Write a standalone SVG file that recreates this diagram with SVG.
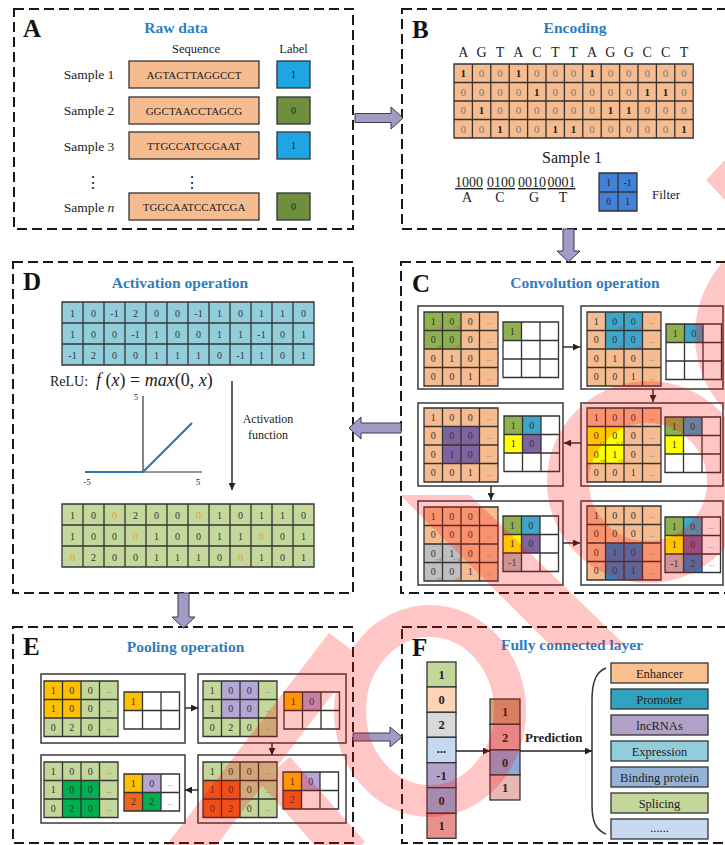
<svg xmlns="http://www.w3.org/2000/svg" width="725" height="845" viewBox="0 0 725 845">
<style>
text{font-family:"Liberation Serif","Times New Roman",serif;fill:#222}
.dash{fill:none;stroke:#1a1a1a;stroke-width:2;stroke-dasharray:10 5}
.pl{font-size:25px;font-weight:bold;fill:#111}
.ti{font-size:15.5px;font-weight:bold;fill:#2F7DBE;text-anchor:middle}
.c{text-anchor:middle}
.ln{fill:none;stroke:#333;stroke-width:1.3}
.sub{fill:#fff;stroke:#3a3a3a;stroke-width:1.5}
.v{font-size:10px;fill:#333;text-anchor:middle}
.d{font-size:7px;fill:#777;text-anchor:middle}
.m{font-size:5px;fill:#d03030;text-anchor:end}
.ba{fill:#A49AC6;stroke:#3a3a55;stroke-width:1}
.ar{stroke:#222;stroke-width:1.4;fill:none;marker-end:url(#ah)}
.bx{stroke:#333;stroke-width:1.3}
.z{font-size:11px;fill:#777;text-anchor:middle}
.o{font-weight:bold;fill:#222}
.cat{font-size:12.5px;fill:#222;text-anchor:middle}
.fv{font-size:12.5px;font-weight:bold;fill:#222;text-anchor:middle}
</style>
<defs>
<marker id="ah" viewBox="0 0 10 10" refX="10" refY="5" markerWidth="5" markerHeight="5" orient="auto"><path d="M0,0 L10,5 L0,10 z" fill="#222"/></marker>
<path id="L44" class="ln" d="M0 0H74V74H0ZM18.5 0V74M37 0V74M55.5 0V74M0 18.5H74M0 37H74M0 55.5H74"/>
<path id="L33" class="ln" d="M0 0H55.5V55.5H0ZM18.5 0V55.5M37 0V55.5M0 18.5H55.5M0 37H55.5"/>
<path id="L43" class="ln" d="M0 0H74V55.5H0ZM18.5 0V55.5M37 0V55.5M55.5 0V55.5M0 18.5H74M0 37H74"/>
<path id="L32" class="ln" d="M0 0H55.5V37H0ZM18.5 0V37M37 0V37M0 18.5H55.5"/>
</defs>
<rect width="725" height="845" fill="#fff"/>

<!-- A: raw data -->
<g id="panel-a">
<rect class="dash" x="14" y="9" width="339" height="220"/>
<text class="pl" x="23" y="37">A</text>
<text class="ti" x="176" y="33">Raw data</text>
<text class="c" x="196" y="53" font-size="12.5">Sequence</text>
<text class="c" x="293.5" y="53" font-size="12.5">Label</text>
<g font-size="13.5">
<text class="c" x="89" y="79">Sample 1</text>
<text class="c" x="89" y="115">Sample 2</text>
<text class="c" x="89" y="150.5">Sample 3</text>
<text class="c" x="89" y="211.5">Sample <tspan font-style="italic">n</tspan></text>
</g>
<g class="bx" fill="#F6BC8F">
<rect x="129" y="61" width="130" height="27"/>
<rect x="129" y="97" width="130" height="27"/>
<rect x="129" y="132" width="130" height="27"/>
<rect x="129" y="193" width="130" height="27"/>
</g>
<g font-size="11" fill="#444">
<text class="c" x="194" y="78.5" fill="#444">AGTACTTAGGCCT</text>
<text class="c" x="194" y="114.5" fill="#444">GGCTAACCTAGCG</text>
<text class="c" x="194" y="149.5" fill="#444">TTGCCATCGGAAT</text>
<text class="c" x="194" y="210.5" fill="#444">TGGCAATCCATCGA</text>
</g>
<g class="bx">
<rect x="277" y="61" width="33" height="27" fill="#1EA5E3"/>
<rect x="277" y="97" width="33" height="27" fill="#6F8F3E"/>
<rect x="277" y="132" width="33" height="27" fill="#1EA5E3"/>
<rect x="277" y="193" width="33" height="27" fill="#6F8F3E"/>
</g>
<g font-size="10">
<text class="c" x="293.5" y="78" fill="#555">1</text>
<text class="c" x="293.5" y="114" fill="#555">0</text>
<text class="c" x="293.5" y="149" fill="#555">1</text>
<text class="c" x="293.5" y="210" fill="#555">0</text>
</g>
<text class="c" x="93" y="188" font-size="16" font-family="DejaVu Serif,serif">⋮</text>
<text class="c" x="192" y="188" font-size="16" font-family="DejaVu Serif,serif">⋮</text>
</g>

<!-- B: one-hot encoding -->
<g id="panel-b">
<rect class="dash" x="402" y="9" width="330" height="220"/>
<text class="pl" x="412" y="38">B</text>
<text class="ti" x="575" y="33">Encoding</text>
<text font-size="14" fill="#333" y="57" class="c"><tspan x="463.2">A</tspan><tspan x="481.6">G</tspan><tspan x="500">T</tspan><tspan x="518.4">A</tspan><tspan x="536.8">C</tspan><tspan x="555.2">T</tspan><tspan x="573.6">T</tspan><tspan x="592">A</tspan><tspan x="610.4">G</tspan><tspan x="628.8">G</tspan><tspan x="647.2">C</tspan><tspan x="665.6">C</tspan><tspan x="684">T</tspan></text>
<rect x="454" y="64" width="239.2" height="74" fill="#F6BC8F"/>
<path class="ln" d="M454 64H693.2V138H454ZM472.4 64V138M490.8 64V138M509.2 64V138M527.6 64V138M546 64V138M564.4 64V138M582.8 64V138M601.2 64V138M619.6 64V138M638 64V138M656.4 64V138M674.8 64V138M454 82.5H693.2M454 101H693.2M454 119.5H693.2"/>
<text class="z" y="77"><tspan x="463.2" class="o">1</tspan><tspan x="481.6">0</tspan><tspan x="500">0</tspan><tspan x="518.4" class="o">1</tspan><tspan x="536.8">0</tspan><tspan x="555.2">0</tspan><tspan x="573.6">0</tspan><tspan x="592" class="o">1</tspan><tspan x="610.4">0</tspan><tspan x="628.8">0</tspan><tspan x="647.2">0</tspan><tspan x="665.6">0</tspan><tspan x="684">0</tspan></text>
<text class="z" y="95.5"><tspan x="463.2">0</tspan><tspan x="481.6">0</tspan><tspan x="500">0</tspan><tspan x="518.4">0</tspan><tspan x="536.8" class="o">1</tspan><tspan x="555.2">0</tspan><tspan x="573.6">0</tspan><tspan x="592">0</tspan><tspan x="610.4">0</tspan><tspan x="628.8">0</tspan><tspan x="647.2" class="o">1</tspan><tspan x="665.6" class="o">1</tspan><tspan x="684">0</tspan></text>
<text class="z" y="114"><tspan x="463.2">0</tspan><tspan x="481.6" class="o">1</tspan><tspan x="500">0</tspan><tspan x="518.4">0</tspan><tspan x="536.8">0</tspan><tspan x="555.2">0</tspan><tspan x="573.6">0</tspan><tspan x="592">0</tspan><tspan x="610.4" class="o">1</tspan><tspan x="628.8" class="o">1</tspan><tspan x="647.2">0</tspan><tspan x="665.6">0</tspan><tspan x="684">0</tspan></text>
<text class="z" y="132.5"><tspan x="463.2">0</tspan><tspan x="481.6">0</tspan><tspan x="500" class="o">1</tspan><tspan x="518.4">0</tspan><tspan x="536.8">0</tspan><tspan x="555.2" class="o">1</tspan><tspan x="573.6" class="o">1</tspan><tspan x="592">0</tspan><tspan x="610.4">0</tspan><tspan x="628.8">0</tspan><tspan x="647.2">0</tspan><tspan x="665.6">0</tspan><tspan x="684" class="o">1</tspan></text>
<text class="c" x="572" y="163" font-size="16" fill="#333">Sample 1</text>
<g font-size="14" fill="#333">
<text class="c" x="469" y="187" text-decoration="underline">1000</text>
<text class="c" x="501" y="187" text-decoration="underline">0100</text>
<text class="c" x="532" y="187" text-decoration="underline">0010</text>
<text class="c" x="561.5" y="187" text-decoration="underline">0001</text>
<text class="c" x="467" y="202">A</text>
<text class="c" x="500" y="202">C</text>
<text class="c" x="534" y="202">G</text>
<text class="c" x="563" y="202">T</text>
</g>
<rect x="599" y="173" width="38" height="38" fill="#4281D8"/>
<path class="ln" d="M599 173H637V211H599ZM618 173V211M599 192H637"/>
<g font-size="9.5">
<text class="c" x="608.5" y="186">1</text>
<text class="c" x="627.5" y="186">-1</text>
<text class="c" x="608.5" y="205">0</text>
<text class="c" x="627.5" y="205">1</text>
</g>
<text x="652" y="199" font-size="13" fill="#333">Filter</text>
</g>

<!-- C: convolution -->
<g id="panel-c">
<rect class="dash" x="401" y="262" width="331" height="331"/>
<text class="pl" x="412" y="292">C</text>
<text class="ti" x="585" y="288">Convolution operation</text>
</g>

<g id="conv-step-1">
<rect class="sub" x="418" y="306" width="145" height="83"/>
<g transform="translate(424,312)">
<rect width="74" height="74" fill="#F6BC8F"/>
<rect width="37" height="37" fill="#8FB04F"/>
<text class="m" x="17.5" y="17">×1</text><text class="m" x="36" y="17">×-1</text><text class="m" x="17.5" y="35.5">×0</text><text class="m" x="36" y="35.5">×1</text>
<text class="v" y="12.8"><tspan x="9.25">1</tspan><tspan x="27.75">0</tspan><tspan x="46.25">0</tspan></text>
<text class="v" y="31.3"><tspan x="9.25">0</tspan><tspan x="27.75">0</tspan><tspan x="46.25">0</tspan></text>
<text class="v" y="49.8"><tspan x="9.25">0</tspan><tspan x="27.75">1</tspan><tspan x="46.25">0</tspan></text>
<text class="v" y="68.3"><tspan x="9.25">0</tspan><tspan x="27.75">0</tspan><tspan x="46.25">1</tspan></text>
<text class="d" y="12"><tspan x="64.75">...</tspan></text><text class="d" y="30.5"><tspan x="64.75">...</tspan></text><text class="d" y="49"><tspan x="64.75">...</tspan></text><text class="d" y="67.5"><tspan x="64.75">...</tspan></text>
<use href="#L44"/>
</g>
<g transform="translate(503,322)">
<rect width="55.5" height="55.5" fill="#fff"/>
<rect width="18.5" height="18.5" fill="#8FB04F"/>
<text class="v" x="9.25" y="12.8">1</text>
<use href="#L33"/>
</g>
</g>

<g id="conv-step-2">
<rect class="sub" x="581" y="306" width="142" height="83"/>
<g transform="translate(587,312)">
<rect width="74" height="74" fill="#F6BC8F"/>
<rect x="18.5" width="37" height="37" fill="#3FA6CB"/>
<text class="m" x="36" y="17">×1</text><text class="m" x="54.5" y="17">×-1</text><text class="m" x="36" y="35.5">×0</text><text class="m" x="54.5" y="35.5">×1</text>
<text class="v" y="12.8"><tspan x="9.25">1</tspan><tspan x="27.75">0</tspan><tspan x="46.25">0</tspan></text>
<text class="v" y="31.3"><tspan x="9.25">0</tspan><tspan x="27.75">0</tspan><tspan x="46.25">0</tspan></text>
<text class="v" y="49.8"><tspan x="9.25">0</tspan><tspan x="27.75">1</tspan><tspan x="46.25">0</tspan></text>
<text class="v" y="68.3"><tspan x="9.25">0</tspan><tspan x="27.75">0</tspan><tspan x="46.25">1</tspan></text>
<text class="d" y="12"><tspan x="64.75">...</tspan></text><text class="d" y="30.5"><tspan x="64.75">...</tspan></text><text class="d" y="49"><tspan x="64.75">...</tspan></text><text class="d" y="67.5"><tspan x="64.75">...</tspan></text>
<use href="#L44"/>
</g>
<g transform="translate(666,324)">
<rect width="55.5" height="55.5" fill="#fff"/>
<rect width="18.5" height="18.5" fill="#8FB04F"/>
<rect x="18.5" width="18.5" height="18.5" fill="#3FA6CB"/>
<text class="v" y="12.8"><tspan x="9.25">1</tspan><tspan x="27.75">0</tspan></text>
<use href="#L33"/>
</g>
</g>

<g id="conv-step-3">
<rect class="sub" x="581" y="403" width="142" height="83"/>
<g transform="translate(587,408)">
<rect width="74" height="74" fill="#F6BC8F"/>
<rect y="18.5" width="37" height="37" fill="#FFFF00"/>
<text class="m" x="17.5" y="35.5">×1</text><text class="m" x="36" y="35.5">×-1</text><text class="m" x="17.5" y="54">×0</text><text class="m" x="36" y="54">×1</text>
<text class="v" y="12.8"><tspan x="9.25">1</tspan><tspan x="27.75">0</tspan><tspan x="46.25">0</tspan></text>
<text class="v" y="31.3"><tspan x="9.25">0</tspan><tspan x="27.75">0</tspan><tspan x="46.25">0</tspan></text>
<text class="v" y="49.8"><tspan x="9.25">0</tspan><tspan x="27.75">1</tspan><tspan x="46.25">0</tspan></text>
<text class="v" y="68.3"><tspan x="9.25">0</tspan><tspan x="27.75">0</tspan><tspan x="46.25">1</tspan></text>
<text class="d" y="12"><tspan x="64.75">...</tspan></text><text class="d" y="30.5"><tspan x="64.75">...</tspan></text><text class="d" y="49"><tspan x="64.75">...</tspan></text><text class="d" y="67.5"><tspan x="64.75">...</tspan></text>
<use href="#L44"/>
</g>
<g transform="translate(665,417)">
<rect width="55.5" height="55.5" fill="#fff"/>
<rect width="18.5" height="18.5" fill="#8FB04F"/>
<rect x="18.5" width="18.5" height="18.5" fill="#3FA6CB"/>
<rect y="18.5" width="18.5" height="18.5" fill="#FFFF00"/>
<text class="v" y="12.8"><tspan x="9.25">1</tspan><tspan x="27.75">0</tspan></text>
<text class="v" x="9.25" y="31.3">1</text>
<use href="#L33"/>
</g>
</g>

<g id="conv-step-4">
<rect class="sub" x="418" y="403" width="145" height="83"/>
<g transform="translate(424,408)">
<rect width="74" height="74" fill="#F6BC8F"/>
<rect x="18.5" y="18.5" width="37" height="37" fill="#8064A2"/>
<text class="m" x="36" y="35.5">×1</text><text class="m" x="54.5" y="35.5">×-1</text><text class="m" x="36" y="54">×0</text><text class="m" x="54.5" y="54">×1</text>
<text class="v" y="12.8"><tspan x="9.25">1</tspan><tspan x="27.75">0</tspan><tspan x="46.25">0</tspan></text>
<text class="v" y="31.3"><tspan x="9.25">0</tspan><tspan x="27.75">0</tspan><tspan x="46.25">0</tspan></text>
<text class="v" y="49.8"><tspan x="9.25">0</tspan><tspan x="27.75">1</tspan><tspan x="46.25">0</tspan></text>
<text class="v" y="68.3"><tspan x="9.25">0</tspan><tspan x="27.75">0</tspan><tspan x="46.25">1</tspan></text>
<text class="d" y="12"><tspan x="64.75">...</tspan></text><text class="d" y="30.5"><tspan x="64.75">...</tspan></text><text class="d" y="49"><tspan x="64.75">...</tspan></text><text class="d" y="67.5"><tspan x="64.75">...</tspan></text>
<use href="#L44"/>
</g>
<g transform="translate(504,416)">
<rect width="55.5" height="55.5" fill="#fff"/>
<rect width="18.5" height="18.5" fill="#8FB04F"/>
<rect x="18.5" width="18.5" height="18.5" fill="#3FA6CB"/>
<rect y="18.5" width="18.5" height="18.5" fill="#FFFF00"/>
<rect x="18.5" y="18.5" width="18.5" height="18.5" fill="#8064A2"/>
<text class="v" y="12.8"><tspan x="9.25">1</tspan><tspan x="27.75">0</tspan></text>
<text class="v" y="31.3"><tspan x="9.25">1</tspan><tspan x="27.75">0</tspan></text>
<use href="#L33"/>
</g>
</g>

<g id="conv-step-5">
<rect class="sub" x="418" y="501" width="145" height="84"/>
<g transform="translate(424,507)">
<rect width="74" height="74" fill="#F6BC8F"/>
<rect y="37" width="37" height="37" fill="#BFBFBF"/>
<text class="m" x="17.5" y="54">×1</text><text class="m" x="36" y="54">×-1</text><text class="m" x="17.5" y="72.5">×0</text><text class="m" x="36" y="72.5">×1</text>
<text class="v" y="12.8"><tspan x="9.25">1</tspan><tspan x="27.75">0</tspan><tspan x="46.25">0</tspan></text>
<text class="v" y="31.3"><tspan x="9.25">0</tspan><tspan x="27.75">0</tspan><tspan x="46.25">0</tspan></text>
<text class="v" y="49.8"><tspan x="9.25">0</tspan><tspan x="27.75">1</tspan><tspan x="46.25">0</tspan></text>
<text class="v" y="68.3"><tspan x="9.25">0</tspan><tspan x="27.75">0</tspan><tspan x="46.25">1</tspan></text>
<text class="d" y="12"><tspan x="64.75">...</tspan></text><text class="d" y="30.5"><tspan x="64.75">...</tspan></text><text class="d" y="49"><tspan x="64.75">...</tspan></text><text class="d" y="67.5"><tspan x="64.75">...</tspan></text>
<use href="#L44"/>
</g>
<g transform="translate(503,516)">
<rect width="55.5" height="55.5" fill="#fff"/>
<rect width="18.5" height="18.5" fill="#8FB04F"/>
<rect x="18.5" width="18.5" height="18.5" fill="#3FA6CB"/>
<rect y="18.5" width="18.5" height="18.5" fill="#FFFF00"/>
<rect x="18.5" y="18.5" width="18.5" height="18.5" fill="#8064A2"/>
<rect y="37" width="18.5" height="18.5" fill="#BFBFBF"/>
<text class="v" y="12.8"><tspan x="9.25">1</tspan><tspan x="27.75">0</tspan></text>
<text class="v" y="31.3"><tspan x="9.25">1</tspan><tspan x="27.75">0</tspan></text>
<text class="v" x="9.25" y="49.8">-1</text>
<use href="#L33"/>
</g>
</g>

<g id="conv-step-6">
<rect class="sub" x="581" y="501" width="142" height="84"/>
<g transform="translate(587,506)">
<rect width="74" height="74" fill="#F6BC8F"/>
<rect x="18.5" y="37" width="37" height="37" fill="#2E83C6"/>
<text class="m" x="36" y="54">×1</text><text class="m" x="54.5" y="54">×-1</text><text class="m" x="36" y="72.5">×0</text><text class="m" x="54.5" y="72.5">×1</text>
<text class="v" y="12.8"><tspan x="9.25">1</tspan><tspan x="27.75">0</tspan><tspan x="46.25">0</tspan></text>
<text class="v" y="31.3"><tspan x="9.25">0</tspan><tspan x="27.75">0</tspan><tspan x="46.25">0</tspan></text>
<text class="v" y="49.8"><tspan x="9.25">0</tspan><tspan x="27.75">1</tspan><tspan x="46.25">0</tspan></text>
<text class="v" y="68.3"><tspan x="9.25">0</tspan><tspan x="27.75">0</tspan><tspan x="46.25">1</tspan></text>
<text class="d" y="12"><tspan x="64.75">...</tspan></text><text class="d" y="30.5"><tspan x="64.75">...</tspan></text><text class="d" y="49"><tspan x="64.75">...</tspan></text><text class="d" y="67.5"><tspan x="64.75">...</tspan></text>
<use href="#L44"/>
</g>
<g transform="translate(665,517)">
<rect width="55.5" height="55.5" fill="#fff"/>
<rect width="18.5" height="18.5" fill="#8FB04F"/>
<rect x="18.5" width="18.5" height="18.5" fill="#3FA6CB"/>
<rect y="18.5" width="18.5" height="18.5" fill="#FFFF00"/>
<rect x="18.5" y="18.5" width="18.5" height="18.5" fill="#8064A2"/>
<rect y="37" width="18.5" height="18.5" fill="#BFBFBF"/>
<rect x="18.5" y="37" width="18.5" height="18.5" fill="#2E83C6"/>
<text class="v" y="12.8"><tspan x="9.25">1</tspan><tspan x="27.75">0</tspan></text>
<text class="v" y="31.3"><tspan x="9.25">1</tspan><tspan x="27.75">0</tspan></text>
<text class="v" y="49.8"><tspan x="9.25">-1</tspan><tspan x="27.75">2</tspan></text>
<text class="d" y="12"><tspan x="46.25">...</tspan></text><text class="d" y="30.5"><tspan x="46.25">...</tspan></text><text class="d" y="49"><tspan x="46.25">...</tspan></text>
<use href="#L33"/>
</g>
</g>

<!-- D: activation -->
<g id="panel-d">
<rect class="dash" x="13" y="262" width="340" height="331"/>
<text class="pl" x="23" y="290">D</text>
<text class="ti" x="180" y="288">Activation operation</text>
<rect x="62" y="302" width="252" height="63" fill="#92CDDC"/>
<path class="ln" d="M62 302H314V365H62ZM83 302V365M104 302V365M125 302V365M146 302V365M167 302V365M188 302V365M209 302V365M230 302V365M251 302V365M272 302V365M293 302V365M62 323H314M62 344H314"/>
<text class="v" font-size="11" y="316.5"><tspan x="72.5">1</tspan><tspan x="93.5">0</tspan><tspan x="114.5">-1</tspan><tspan x="135.5">2</tspan><tspan x="156.5">0</tspan><tspan x="177.5">0</tspan><tspan x="198.5">-1</tspan><tspan x="219.5">1</tspan><tspan x="240.5">0</tspan><tspan x="261.5">1</tspan><tspan x="282.5">1</tspan><tspan x="303.5">0</tspan></text>
<text class="v" font-size="11" y="337.5"><tspan x="72.5">1</tspan><tspan x="93.5">0</tspan><tspan x="114.5">0</tspan><tspan x="135.5">-1</tspan><tspan x="156.5">1</tspan><tspan x="177.5">0</tspan><tspan x="198.5">0</tspan><tspan x="219.5">1</tspan><tspan x="240.5">1</tspan><tspan x="261.5">-1</tspan><tspan x="282.5">0</tspan><tspan x="303.5">1</tspan></text>
<text class="v" font-size="11" y="358.5"><tspan x="72.5">-1</tspan><tspan x="93.5">2</tspan><tspan x="114.5">0</tspan><tspan x="135.5">0</tspan><tspan x="156.5">1</tspan><tspan x="177.5">1</tspan><tspan x="198.5">1</tspan><tspan x="219.5">0</tspan><tspan x="240.5">-1</tspan><tspan x="261.5">1</tspan><tspan x="282.5">0</tspan><tspan x="303.5">1</tspan></text>
<text x="50" y="386" font-size="14">ReLU:<tspan x="96" font-style="italic" font-size="18">f</tspan><tspan font-size="18"> (</tspan><tspan font-style="italic" font-size="18">x</tspan><tspan font-size="18">) = </tspan><tspan font-style="italic" font-size="18">max</tspan><tspan font-size="18">(0, </tspan><tspan font-style="italic" font-size="18">x</tspan><tspan font-size="18">)</tspan></text>
<text class="c" x="268" y="423" font-size="12">Activation</text>
<text class="c" x="268" y="439" font-size="12">function</text>
<g id="relu-plot">
<path d="M143 396V472M85 472H202" fill="none" stroke="#333" stroke-width="1.2"/>
<path d="M85 472H143L192 423" fill="none" stroke="#2E75B6" stroke-width="2.2"/>
<text x="138" y="400" font-size="8" fill="#333" text-anchor="end">5</text>
<text class="c" x="87" y="485" font-size="9" fill="#333">-5</text>
<text class="c" x="198" y="485" font-size="9" fill="#333">5</text>
</g>
<rect x="62" y="504" width="252" height="63" fill="#C4D89C"/>
<path class="ln" d="M62 504H314V567H62ZM83 504V567M104 504V567M125 504V567M146 504V567M167 504V567M188 504V567M209 504V567M230 504V567M251 504V567M272 504V567M293 504V567M62 525H314M62 546H314"/>
<text class="v" font-size="11" y="518.5"><tspan x="72.5">1</tspan><tspan x="93.5">0</tspan><tspan x="114.5" fill="#E8A030">0</tspan><tspan x="135.5">2</tspan><tspan x="156.5">0</tspan><tspan x="177.5">0</tspan><tspan x="198.5" fill="#E8A030">0</tspan><tspan x="219.5">1</tspan><tspan x="240.5">0</tspan><tspan x="261.5">1</tspan><tspan x="282.5">1</tspan><tspan x="303.5">0</tspan></text>
<text class="v" font-size="11" y="539.5"><tspan x="72.5">1</tspan><tspan x="93.5">0</tspan><tspan x="114.5">0</tspan><tspan x="135.5" fill="#E8A030">0</tspan><tspan x="156.5">1</tspan><tspan x="177.5">0</tspan><tspan x="198.5">0</tspan><tspan x="219.5">1</tspan><tspan x="240.5">1</tspan><tspan x="261.5" fill="#E8A030">0</tspan><tspan x="282.5">0</tspan><tspan x="303.5">1</tspan></text>
<text class="v" font-size="11" y="560.5"><tspan x="72.5" fill="#E8A030">0</tspan><tspan x="93.5">2</tspan><tspan x="114.5">0</tspan><tspan x="135.5">0</tspan><tspan x="156.5">1</tspan><tspan x="177.5">1</tspan><tspan x="198.5">1</tspan><tspan x="219.5">0</tspan><tspan x="240.5" fill="#E8A030">0</tspan><tspan x="261.5">1</tspan><tspan x="282.5">0</tspan><tspan x="303.5">1</tspan></text>
</g>

<!-- E: pooling -->
<g id="panel-e">
<rect class="dash" x="13" y="627" width="340" height="216"/>
<text class="pl" x="23" y="655">E</text>
<text class="ti" x="185.5" y="652">Pooling operation</text>
</g>

<g id="pool-step-1">
<rect class="sub" x="41" y="674" width="144" height="69"/>
<g transform="translate(44,681)">
<rect width="74" height="55.5" fill="#C4D79B"/>
<rect width="37" height="37" fill="#FFC000"/>
<text class="v" y="12.8"><tspan x="9.25">1</tspan><tspan x="27.75">0</tspan><tspan x="46.25">0</tspan></text>
<text class="v" y="31.3"><tspan x="9.25">1</tspan><tspan x="27.75">0</tspan><tspan x="46.25">0</tspan></text>
<text class="v" y="49.8"><tspan x="9.25">0</tspan><tspan x="27.75">2</tspan><tspan x="46.25">0</tspan></text>
<text class="d" y="12"><tspan x="64.75">...</tspan></text><text class="d" y="30.5"><tspan x="64.75">...</tspan></text><text class="d" y="49"><tspan x="64.75">...</tspan></text>
<use href="#L43"/>
</g>
<g transform="translate(124,692)">
<rect width="55.5" height="37" fill="#fff"/>
<rect width="18.5" height="18.5" fill="#FFC000"/>
<text class="v" x="9.25" y="12.8">1</text>
<use href="#L32"/>
</g>
</g>

<g id="pool-step-2">
<rect class="sub" x="198" y="674" width="148" height="69"/>
<g transform="translate(203,681)">
<rect width="74" height="55.5" fill="#C4D79B"/>
<rect x="18.5" width="37" height="37" fill="#B4A7D6"/>
<text class="v" y="12.8"><tspan x="9.25">1</tspan><tspan x="27.75">0</tspan><tspan x="46.25">0</tspan></text>
<text class="v" y="31.3"><tspan x="9.25">1</tspan><tspan x="27.75">0</tspan><tspan x="46.25">0</tspan></text>
<text class="v" y="49.8"><tspan x="9.25">0</tspan><tspan x="27.75">2</tspan><tspan x="46.25">0</tspan></text>
<text class="d" y="12"><tspan x="64.75">...</tspan></text><text class="d" y="30.5"><tspan x="64.75">...</tspan></text><text class="d" y="49"><tspan x="64.75">...</tspan></text>
<use href="#L43"/>
</g>
<g transform="translate(284,692)">
<rect width="55.5" height="37" fill="#fff"/>
<rect width="18.5" height="18.5" fill="#FFC000"/>
<rect x="18.5" width="18.5" height="18.5" fill="#B4A7D6"/>
<text class="v" y="12.8"><tspan x="9.25">1</tspan><tspan x="27.75">0</tspan></text>
<use href="#L32"/>
</g>
</g>

<g id="pool-step-3">
<rect class="sub" x="198" y="755" width="148" height="68"/>
<g transform="translate(203,762)">
<rect width="74" height="55.5" fill="#C4D79B"/>
<rect y="18.5" width="37" height="37" fill="#EE6420"/>
<text class="v" y="12.8"><tspan x="9.25">1</tspan><tspan x="27.75">0</tspan><tspan x="46.25">0</tspan></text>
<text class="v" y="31.3"><tspan x="9.25">1</tspan><tspan x="27.75">0</tspan><tspan x="46.25">0</tspan></text>
<text class="v" y="49.8"><tspan x="9.25">0</tspan><tspan x="27.75">2</tspan><tspan x="46.25">0</tspan></text>
<text class="d" y="12"><tspan x="64.75">...</tspan></text><text class="d" y="30.5"><tspan x="64.75">...</tspan></text><text class="d" y="49"><tspan x="64.75">...</tspan></text>
<use href="#L43"/>
</g>
<g transform="translate(283,772)">
<rect width="55.5" height="37" fill="#fff"/>
<rect width="18.5" height="18.5" fill="#FFC000"/>
<rect x="18.5" width="18.5" height="18.5" fill="#B4A7D6"/>
<rect y="18.5" width="18.5" height="18.5" fill="#EE6420"/>
<text class="v" y="12.8"><tspan x="9.25">1</tspan><tspan x="27.75">0</tspan></text>
<text class="v" x="9.25" y="31.3">2</text>
<use href="#L32"/>
</g>
</g>

<g id="pool-step-4">
<rect class="sub" x="41" y="755" width="144" height="68"/>
<g transform="translate(44,762)">
<rect width="74" height="55.5" fill="#C4D79B"/>
<rect x="18.5" y="18.5" width="37" height="37" fill="#00B050"/>
<text class="v" y="12.8"><tspan x="9.25">1</tspan><tspan x="27.75">0</tspan><tspan x="46.25">0</tspan></text>
<text class="v" y="31.3"><tspan x="9.25">1</tspan><tspan x="27.75">0</tspan><tspan x="46.25">0</tspan></text>
<text class="v" y="49.8"><tspan x="9.25">0</tspan><tspan x="27.75">2</tspan><tspan x="46.25">0</tspan></text>
<text class="d" y="12"><tspan x="64.75">...</tspan></text><text class="d" y="30.5"><tspan x="64.75">...</tspan></text><text class="d" y="49"><tspan x="64.75">...</tspan></text>
<use href="#L43"/>
</g>
<g transform="translate(124,774)">
<rect width="55.5" height="37" fill="#fff"/>
<rect width="18.5" height="18.5" fill="#FFC000"/>
<rect x="18.5" width="18.5" height="18.5" fill="#B4A7D6"/>
<rect y="18.5" width="18.5" height="18.5" fill="#EE6420"/>
<rect x="18.5" y="18.5" width="18.5" height="18.5" fill="#00B050"/>
<text class="v" y="12.8"><tspan x="9.25">1</tspan><tspan x="27.75">0</tspan></text>
<text class="v" y="31.3"><tspan x="9.25">2</tspan><tspan x="27.75">2</tspan></text>
<text class="d" y="12"><tspan x="46.25">...</tspan></text><text class="d" y="30.5"><tspan x="46.25">...</tspan></text>
<use href="#L32"/>
</g>
</g>

<!-- F: fully connected layer -->
<g id="panel-f">
<rect class="dash" x="402" y="627" width="330" height="216"/>
<text class="pl" x="412" y="656">F</text>
<text class="ti" x="572" y="650">Fully connected layer</text>
</g>
<g id="flat-vector">
<g class="bx">
<rect x="427" y="662" width="29" height="25" fill="#C4D79B"/>
<rect x="427" y="687" width="29" height="25.3" fill="#FBD5B5"/>
<rect x="427" y="712.3" width="29" height="25" fill="#D9D9D9"/>
<rect x="427" y="737.3" width="29" height="25.4" fill="#C6D9F1"/>
<rect x="427" y="762.7" width="29" height="25" fill="#B3A2C7"/>
<rect x="427" y="787.7" width="29" height="25.6" fill="#8DB4E2"/>
<rect x="427" y="813.3" width="29" height="25" fill="#E8928E"/>
</g>
<text class="fv" x="441.5" y="679">1</text>
<text class="fv" x="441.5" y="704">0</text>
<text class="fv" x="441.5" y="729">2</text>
<text class="fv" x="441.5" y="753">...</text>
<text class="fv" x="441.5" y="779.5">-1</text>
<text class="fv" x="441.5" y="804.5">0</text>
<text class="fv" x="441.5" y="830">1</text>
</g>
<g id="dense-vector">
<g class="bx">
<rect x="490" y="699" width="30" height="25.3" fill="#CFA57C"/>
<rect x="490" y="724.3" width="30" height="25.7" fill="#E3ACAA"/>
<rect x="490" y="750" width="30" height="25" fill="#8FA8DA"/>
<rect x="490" y="775" width="30" height="25" fill="#E8B8B4"/>
</g>
<text class="fv" x="505" y="716">1</text>
<text class="fv" x="505" y="741.5">2</text>
<text class="fv" x="505" y="767">0</text>
<text class="fv" x="505" y="792">1</text>
</g>
<text x="525" y="742" font-size="13" font-weight="bold">Prediction</text>
<path id="brace" d="M606 668C596 672 592 682 592 700L592 805C592 822 596 830 606 834" fill="none" stroke="#333" stroke-width="1.5"/>
<g id="categories">
<g class="bx">
<rect x="611" y="663" width="97" height="20" fill="#F9BF8F"/>
<rect x="611" y="689" width="97" height="20" fill="#31A3BE"/>
<rect x="611" y="715" width="97" height="20" fill="#B3A2C7"/>
<rect x="611" y="741" width="97" height="20" fill="#92CDDC"/>
<rect x="611" y="767" width="97" height="20" fill="#95B3D7"/>
<rect x="611" y="793" width="97" height="20" fill="#C3D69B"/>
<rect x="611" y="819" width="97" height="20" fill="#C6D9F1"/>
</g>
<text class="cat" x="659.5" y="677.5">Enhancer</text>
<text class="cat" x="659.5" y="703.5">Promoter</text>
<text class="cat" x="659.5" y="729.5">lncRNAs</text>
<text class="cat" x="659.5" y="755.5">Expression</text>
<text class="cat" x="659.5" y="781.5">Binding protein</text>
<text class="cat" x="659.5" y="807.5">Splicing</text>
<text class="cat" x="659.5" y="832">......</text>
</g>

<!-- connectors -->
<g id="connectors">
<polygon class="ba" points="355,113.5 391,113.5 391,107 403,118 391,129 391,122.5 355,122.5"/>
<polygon class="ba" points="563,229 574,229 574,251 580,251 568.5,262 557,251 563,251"/>
<polygon class="ba" points="401,423 361,423 361,417 349,428 361,439 361,433 401,433"/>
<polygon class="ba" points="178,593 189,593 189,617 195,617 183.5,628 172,617 178,617"/>
<polygon class="ba" points="353,733 390,733 390,727 402,737 390,747 390,741 353,741"/>
<line class="ar" x1="563" y1="347" x2="580" y2="347"/>
<line class="ar" x1="653" y1="389" x2="653" y2="402"/>
<line class="ar" x1="581" y1="443" x2="564" y2="443"/>
<line class="ar" x1="491" y1="486" x2="491" y2="500"/>
<line class="ar" x1="563" y1="543" x2="580" y2="543"/>
<line class="ar" x1="232" y1="381" x2="232" y2="490"/>
<line class="ar" x1="185" y1="708" x2="198" y2="708"/>
<line class="ar" x1="272" y1="743" x2="272" y2="755"/>
<line class="ar" x1="198" y1="790" x2="185" y2="790"/>
<line class="ar" x1="456" y1="751" x2="490" y2="751"/>
<line class="ar" x1="520" y1="751" x2="592" y2="751"/>
</g>

<!-- translucent red mark laid over the figure -->
<g id="overlay" opacity="0.22" fill="#ff0000" stroke="#ff0000">
<polygon stroke="none" points="706,180 725,160 725,200"/>
<circle stroke="none" cx="805" cy="335" r="110"/>
<circle fill="none" cx="648" cy="482" r="80" stroke-width="42"/>
<polygon stroke="none" points="400,495 470,495 625,645 550,645"/>
<ellipse fill="none" cx="430" cy="711" rx="80" ry="90" stroke-width="32"/>
<line x1="345" y1="645" x2="180" y2="860" stroke-width="40"/>
<line x1="275" y1="770" x2="350" y2="855" stroke-width="40"/>
</g>
</svg>
